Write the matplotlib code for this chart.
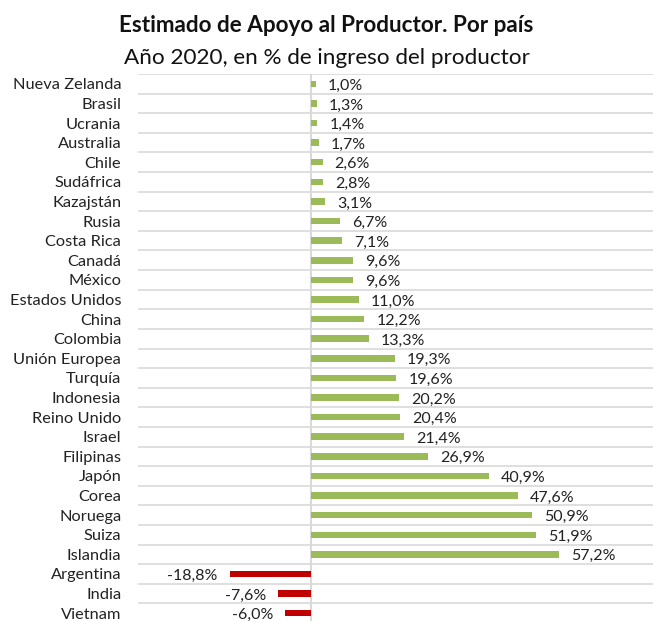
import matplotlib.pyplot as plt

plt.rcParams['font.family'] = ['Lato', 'DejaVu Sans']

paises = ["Nueva Zelanda", "Brasil", "Ucrania", "Australia", "Chile", "Sudáfrica",
          "Kazajstán", "Rusia", "Costa Rica", "Canadá", "México", "Estados Unidos",
          "China", "Colombia", "Unión Europea", "Turquía", "Indonesia", "Reino Unido",
          "Israel", "Filipinas", "Japón", "Corea", "Noruega", "Suiza", "Islandia",
          "Argentina", "India", "Vietnam"]
valores = [1.0, 1.3, 1.4, 1.7, 2.6, 2.8, 3.1, 6.7, 7.1, 9.6, 9.6, 11.0, 12.2, 13.3,
           19.3, 19.6, 20.2, 20.4, 21.4, 26.9, 40.9, 47.6, 50.9, 51.9, 57.2,
           -18.8, -7.6, -6.0]

verde = "#9BBB59"
rojo = "#C00000"

fig = plt.figure(figsize=(6.53, 6.21), dpi=100)
# axes: left edge ~138px, top ~74px, bottom slightly below the image
ax = fig.add_axes([138/653, -2/621, 520/653, 549/621])

y = list(range(len(paises)))
colores = [verde if v >= 0 else rojo for v in valores]
ax.barh(y, valores, height=0.33, color=colores, zorder=3)

ax.set_xlim(-40, 80)
ax.set_ylim(len(paises) - 0.5, -0.5)

# lineas horizontales entre categorias
for b in range(len(paises) + 1):
    ax.axhline(b - 0.5, color="#D9D9D9", lw=1.2, zorder=1)
ax.axvline(0, color="#D9D9D9", lw=1.5, zorder=2)

for s in ax.spines.values():
    s.set_visible(False)
ax.set_xticks([])
ax.set_yticks(y)
ax.set_yticklabels(paises, fontsize=11.8, color="#222222")
ax.tick_params(axis="y", length=0, pad=12)

for yi, v in zip(y, valores):
    txt = f"{v:.1f}".replace(".", ",") + "%"
    if v >= 0:
        ax.annotate(txt, (v, yi), xytext=(12, -2), textcoords="offset pixels",
                    ha="left", va="center", fontsize=11.5, color="#222222")
    else:
        ax.annotate(txt, (v, yi), xytext=(-12, -2), textcoords="offset pixels",
                    ha="right", va="center", fontsize=11.5, color="#222222")

fig.text(0.5, 1 - 25/621, "Estimado de Apoyo al Productor. Por país",
         ha="center", va="center", fontsize=16.2, fontweight="bold", color="#111111")
fig.text(0.5, 1 - 58/621, "Año 2020, en % de ingreso del productor",
         ha="center", va="center", fontsize=16.2, color="#111111")

fig.savefig("out.png", dpi=100)
